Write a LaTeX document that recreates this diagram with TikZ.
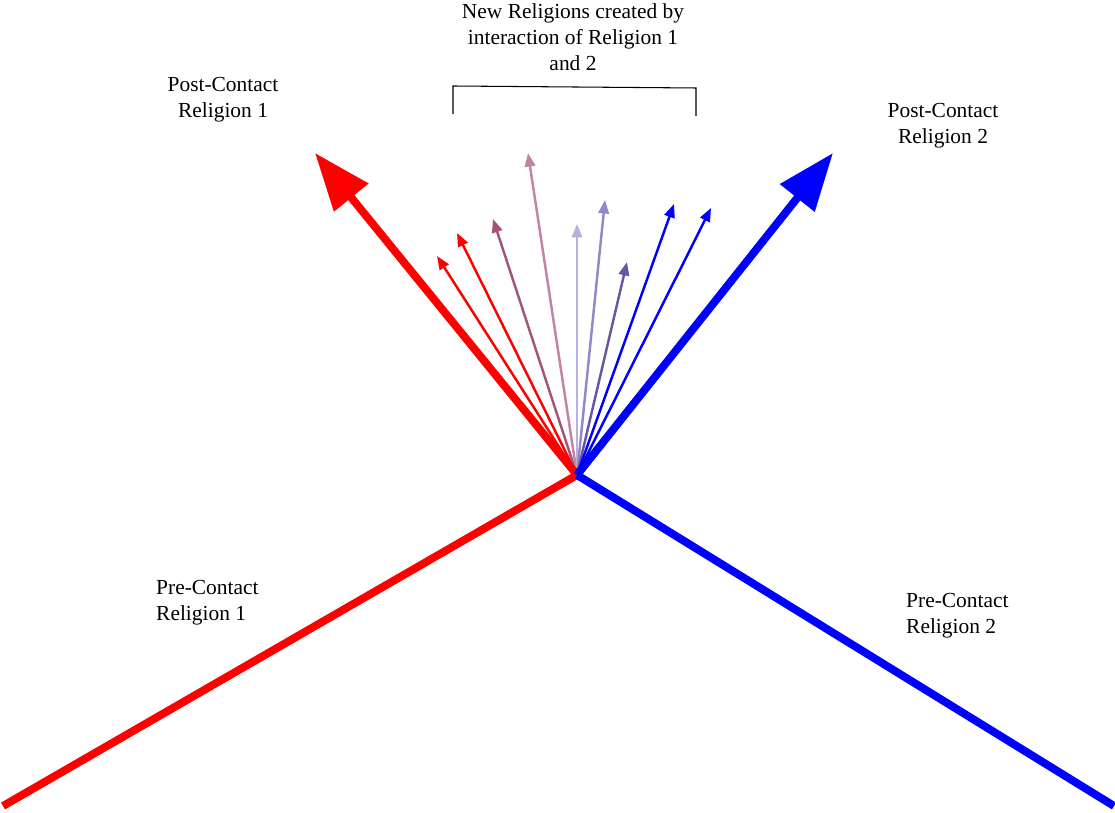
\documentclass[tikz,border=0pt]{standalone}
\usepackage{fontspec}
\setmainfont{Liberation Serif}
\usetikzlibrary{arrows.meta}
\definecolor{relRed}{HTML}{FF0000}
\definecolor{relBlue}{HTML}{0000FF}
\definecolor{mixPink}{HTML}{C283A4}
\definecolor{mixPlum}{HTML}{A2557A}
\definecolor{mixLilac}{HTML}{B9B1DD}
\definecolor{mixLavender}{HTML}{9187C9}
\definecolor{mixViolet}{HTML}{6B54A3}
\begin{document}
\begin{tikzpicture}[x=0.02cm, y=-0.02cm,
  every node/.style={font=\fontsize{12.2}{14.8}\selectfont, align=center},
  trunk/.style={line width=4.5pt},
  mainarr/.style={line width=4.5pt, -{Triangle[length=1.15cm, width=0.85cm]}},
  newarr/.style={line width=1.4pt, -{Triangle[length=0.27cm, width=0.21cm]}},
  brk/.style={draw=black, line width=0.6pt},
]
\useasboundingbox (0,0) rectangle (1115,813);

% Meeting point and ends
\coordinate (hub) at (577,475);
\coordinate (pre1) at (3,806);
\coordinate (pre2) at (1114,806);
\coordinate (post1) at (315,153);
\coordinate (post2) at (833,153);

% Tips of the new religions
\coordinate (n1) at (437,256);
\coordinate (n2) at (457,233);
\coordinate (n3) at (493,219);
\coordinate (n4) at (528,153);
\coordinate (n5) at (577,224);
\coordinate (n6) at (605,200);
\coordinate (n7) at (627,262);
\coordinate (n8) at (674,204);
\coordinate (n9) at (711,208);

% Labels
\node (lpost1) at (223,100) {Post-Contact\\Religion 1};
\node (lpost2) at (943,126) {Post-Contact\\Religion 2};
\node[anchor=west, align=left] (lpre1) at (150,603) {Pre-Contact\\Religion 1};
\node[anchor=west, align=left] (lpre2) at (900,616) {Pre-Contact\\Religion 2};
\node (lnew) at (573,37) {New Religions created by\\interaction of Religion 1\\and 2};

% Bracket
\coordinate (bl) at (453,114);
\coordinate (br) at (696,116);
\draw[brk] (bl) -- (453,86) -- (696,88) -- (br);

% New religions
\draw[newarr, relRed] (hub) -- (n1);
\draw[newarr, relRed] (hub) -- (n2);
\draw[newarr, mixPlum] (hub) -- (n3);
\draw[newarr, mixPink] (hub) -- (n4);
\draw[newarr, mixLilac] (hub) -- (n5);
\draw[newarr, mixLavender] (hub) -- (n6);
\draw[newarr, mixViolet] (hub) -- (n7);
\draw[newarr, relBlue] (hub) -- (n8);
\draw[newarr, relBlue] (hub) -- (n9);

% Religions before and after contact
\draw[trunk, relRed] (pre1) -- (hub);
\draw[trunk, relBlue] (hub) -- (pre2);
\draw[mainarr, relRed] (hub) -- (post1);
\draw[mainarr, relBlue] (hub) -- (post2);

\end{tikzpicture}
\end{document}
